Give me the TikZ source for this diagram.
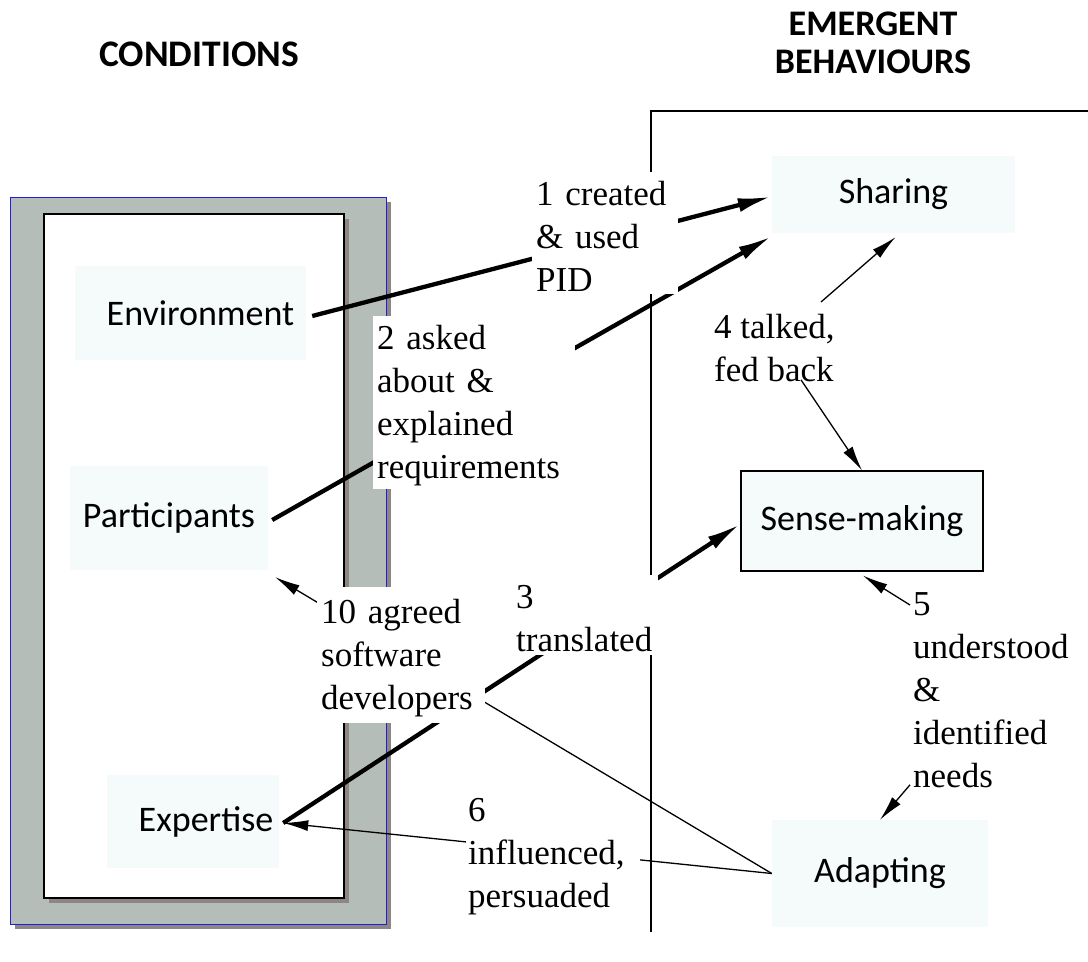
\documentclass[tikz,border=0pt]{standalone}
\usepackage{fontspec}
\setmainfont{Liberation Serif}
\newfontfamily\calibfont{Carlito}
\usetikzlibrary{arrows.meta,calc}
\definecolor{faint}{RGB}{245,250,251}
\definecolor{framegray}{RGB}{181,189,184}
\definecolor{shadowgray}{RGB}{142,133,133}
\definecolor{frameblue}{RGB}{30,30,220}

\begin{document}
\begin{tikzpicture}[x=1pt,y=-1pt,
  concept/.style={fill=faint, inner sep=0pt, font=\calibfont\fontsize{36}{43}\selectfont},
  heading/.style={font=\calibfont\bfseries\fontsize{36}{38}\selectfont, anchor=base},
  edgelabel/.style={fill=white, anchor=north west, align=left, inner xsep=4pt, inner ysep=3pt,
                    font=\fontsize{35}{43}\selectfont},
  thicklink/.style={line width=4.3pt, -{Latex[length=34pt,width=14pt]}},
  thinlink/.style={line width=1.3pt, -{Latex[length=25pt,width=11pt]}},
  panel/.style={line width=1.3pt}
]
\useasboundingbox (0,0) rectangle (1088,962);

% conditions frame with drop shadows
\fill[shadowgray] (15,202) rectangle (391,929);
\filldraw[fill=framegray, draw=frameblue, line width=1pt] (10,197) rectangle (386,924);
\fill[shadowgray] (49,219) rectangle (349,903);
\filldraw[fill=white, draw=black, line width=1.2pt] (44,214) rectangle (344,898);

% emergent behaviours panel
\draw[panel] (651,932) -- (651,111) -- (1088,111);

% headings
\node[heading, font=\calibfont\bfseries\fontsize{37.5}{38}\selectfont] (hcond) at (199,66) {CONDITIONS};
\node[heading] (hemerg) at (873,35) {EMERGENT};
\node[heading] (hbehav) at (873,73) {BEHAVIOURS};

% conditions
\node[concept, minimum width=231pt, minimum height=94pt] (env) at (190.5,313) {\hspace*{20pt}Environment};
\node[concept, minimum width=198pt, minimum height=104pt] (part) at (169,518) {Participants};
\node[concept, minimum width=172pt, minimum height=93pt] (expert) at (193,821.5) {\hspace*{26pt}Expertise};

% behaviours
\node[concept, minimum width=243pt, minimum height=77pt] (share) at (893.5,194.5) {Sharing};
\node[concept, draw, line width=1.2pt, minimum width=242pt, minimum height=100pt] (sense) at (862,521) {Sense-making};
\node[concept, minimum width=216pt, minimum height=107pt] (adapt) at (880,873.5) {Adapting};

% connector end points beside the condition texts
\coordinate (envout) at ($(env.east)+(6,3)$);
\coordinate (partout) at ($(part.east)+(4,2)$);
\coordinate (expout) at ($(expert.east)+(4,1.5)$);
\coordinate (partin) at ($(part.south east)+(7,7)$);

% links running under their labels
\draw[thicklink] (envout) -- ($(share.west)+(0,2)$);
\draw[thicklink] (partout) -- ($(share.south west)+(0,3)$);
\draw[thicklink] (expout) -- ($(sense.west)+(0,3)$);
\draw[thinlink] (adapt.west) -- (partin);
\draw[thinlink] (adapt.west) -- (expout);

% labels sitting on the links
\node[edgelabel, text width=138pt] (lab1) at (532,172) {\strut 1 created\\\& used\\PID};
\node[edgelabel, text width=194pt] (lab2) at (373,316) {\strut 2 asked\\about \&\\explained\\requirements};
\node[edgelabel, text width=138pt] (lab3) at (512,575) {\strut 3\\translated};
\node[edgelabel, text width=160pt, inner ysep=6pt] (lab10) at (317,587) {\strut 10 agreed\\software\\developers};
\node[edgelabel, text width=170pt, inner ysep=0pt, inner xsep=2pt] (lab6) at (466,797) {\rule{0pt}{24pt}6\\influenced,\\persuaded\rule[-14pt]{0pt}{14pt}};

% labels with their own arrows
\node[edgelabel] (lab4) at (710,305) {\strut 4 talked,\\fed back};
\node[edgelabel] (lab5) at (909,582) {\strut 5\\understood\\\&\\identified\\needs};

\coordinate (lab4up) at ($(lab4.north west)+(111,-3)$);
\coordinate (lab4down) at ($(lab4.south west)+(91,-5)$);
\coordinate (lab5up) at ($(lab5.north west)+(1,23)$);
\coordinate (lab5down) at ($(lab5.south west)+(1,-6)$);

\draw[thinlink] (lab4up) -- ($(share.south)+(2,4)$);
\draw[thinlink] (lab4down) -- (sense.north);
\draw[thinlink] (lab5up) -- ($(sense.south)+(1,4)$);
\draw[thinlink] (lab5down) -- (adapt.north);
\end{tikzpicture}
\end{document}
